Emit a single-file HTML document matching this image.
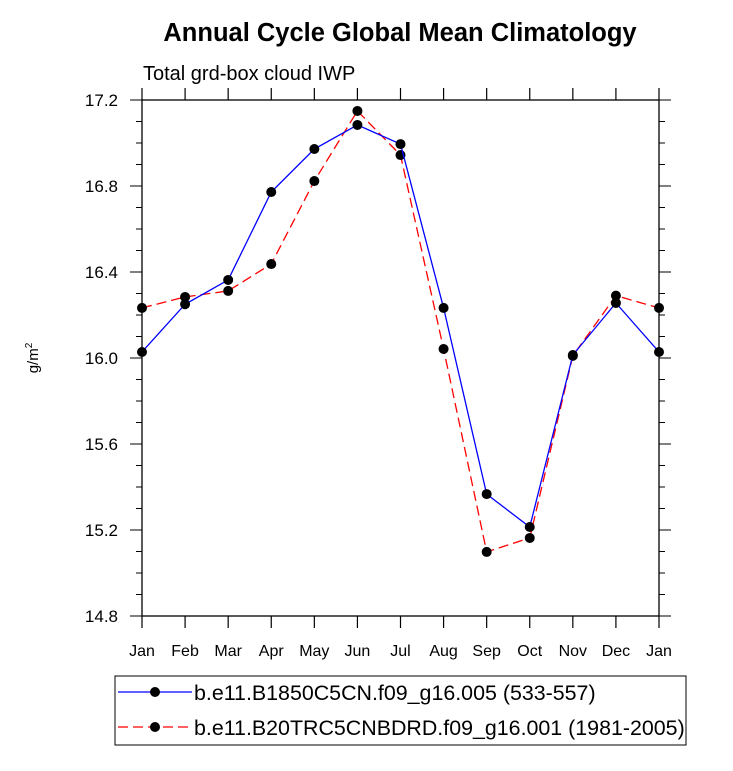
<!DOCTYPE html>
<html><head><meta charset="utf-8"><style>
body{margin:0;background:#fff;width:733px;height:766px;overflow:hidden;font-family:"Liberation Sans",sans-serif}
</style></head><body>
<svg id="chart" width="733" height="766" viewBox="0 0 733 766" font-family="Liberation Sans, sans-serif">
<text x="400" y="41" text-anchor="middle" font-size="25.5" font-weight="bold">Annual Cycle Global Mean Climatology</text>
<text x="143" y="80" font-size="20">Total grd-box cloud IWP</text>
<text transform="translate(38,358) rotate(-90)" text-anchor="middle" font-size="15">g/m<tspan dy="-6" font-size="10">2</tspan></text>
<g id="axes"></g>
<g id="series"></g>
<g>
<rect x="115" y="676" width="571" height="69" fill="none" stroke="#000" stroke-width="1"/>
<g>
<line x1="118" y1="692" x2="192" y2="692" stroke="#00f" stroke-width="1.3"/>
<circle cx="155" cy="692" r="5" fill="#000"/>
<text x="194" y="700" font-size="21.4">b.e11.B1850C5CN.f09_g16.005 (533-557)</text>
</g>
<g>
<line x1="118" y1="727" x2="192" y2="727" stroke="#f00" stroke-width="1.3" stroke-dasharray="10,5"/>
<circle cx="155" cy="727" r="5" fill="#000"/>
<text x="194" y="735" font-size="21.4">b.e11.B20TRC5CNBDRD.f09_g16.001 (1981-2005)</text>
</g>
</g>
</svg>
<script>
const months=["Jan","Feb","Mar","Apr","May","Jun","Jul","Aug","Sep","Oct","Nov","Dec","Jan"];
const seriesB1850=[16.028,16.25,16.363,16.772,16.972,17.084,16.995,16.233,15.367,15.214,16.014,16.256,16.028];
const seriesB20TR=[16.233,16.284,16.312,16.437,16.823,17.149,16.944,16.042,15.098,15.163,16.01,16.29,16.233];
const yTicks=[14.8,15.2,15.6,16.0,16.4,16.8,17.2];
const yMin=14.8,yMax=17.2;
const L=142,R=659,T=100,B=616;
const NS="http://www.w3.org/2000/svg";
function xs(i){return L+(R-L)*i/(months.length-1);}
function ys(v){return B-(v-yMin)/(yMax-yMin)*(B-T);}
function mk(tag,attrs,parent){const e=document.createElementNS(NS,tag);for(const k in attrs)e.setAttribute(k,attrs[k]);parent.appendChild(e);return e;}
const ax=document.getElementById('axes');
const frame=mk('rect',{x:L,y:T,width:R-L,height:B-T,fill:'none',stroke:'#000','stroke-width':1.3},ax);


months.forEach((m,i)=>{
  const x=xs(i);
  mk('line',{x1:x,y1:B,x2:x,y2:B+12,stroke:'#000','stroke-width':1.2},ax);
  mk('line',{x1:x,y1:T,x2:x,y2:T-12,stroke:'#000','stroke-width':1.2},ax);
  const t=mk('text',{x:x,y:B+40,'text-anchor':'middle','font-size':16},ax);
  t.textContent=m;
  
  
});
for(let v=yMin;v<=yMax+1e-9;v+=0.1){
  const y=ys(v);
  const major=Math.abs((v-yMin)/0.4-Math.round((v-yMin)/0.4))<1e-6;
  const len=major?12:6;
  mk('line',{x1:L,y1:y,x2:L-len,y2:y,stroke:'#000','stroke-width':1},ax);
  mk('line',{x1:R,y1:y,x2:R+len,y2:y,stroke:'#000','stroke-width':1},ax);
}
yTicks.forEach(v=>{
  const t=mk('text',{x:L-24,y:ys(v)+6,'text-anchor':'end','font-size':17},ax);
  t.textContent=v.toFixed(1);
  
  
});
const sg=document.getElementById('series');
function draw(vals,color,dash,name){
  const g=mk('g',{},sg);
  
  
  const pts=vals.map((v,i)=>xs(i)+','+ys(v)).join(' ');
  const pl=mk('polyline',{points:pts,fill:'none',stroke:color,'stroke-width':1.3,'stroke-dasharray':dash},g);
  
  
  vals.forEach((v,i)=>{
    const c=mk('circle',{cx:xs(i),cy:ys(v),r:5,fill:'#000'},g);
    
    
  });
}
draw(seriesB20TR,'#f00','10,5','series-b20tr');
draw(seriesB1850,'#00f','none','series-b1850');
</script>
</body></html>
